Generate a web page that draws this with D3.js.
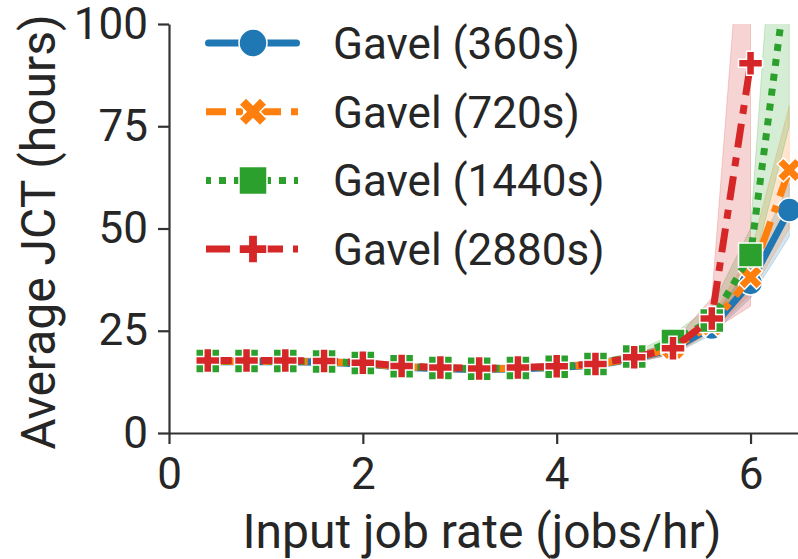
<!DOCTYPE html>
<html>
<head>
<meta charset="utf-8">
<script src="https://cdn.jsdelivr.net/npm/d3@7"></script>
<style>
  html, body { margin: 0; padding: 0; background: #fff; }
  svg { display: block; font-family: Roboto, "DejaVu Sans", sans-serif; }
</style>
</head>
<body>
<svg id="chart" width="798" height="559"></svg>
<script>
// input job rates (jobs/hr)
const rates = [0.4, 0.8, 1.2, 1.6, 2.0, 2.4, 2.8, 3.2, 3.6, 4.0, 4.4, 4.8, 5.2, 5.6, 6.0, 6.4]

// average JCT (hours), mean and confidence band per round length
const jct360 = [17.4, 17.4, 17.4, 17.3, 16.9, 16.1, 15.7, 15.5, 15.7, 16.0, 16.6, 18.2, 20.6, 25.8, 36.7, 54.5]
const lo360 = [16.7, 16.7, 16.7, 16.6, 16.2, 15.4, 15.0, 14.8, 15.0, 15.3, 15.8, 17.2, 19.2, 24.0, 33.0, 48.0]
const hi360 = [18.1, 18.1, 18.1, 18.0, 17.6, 16.8, 16.4, 16.2, 16.4, 16.7, 17.4, 19.2, 22.0, 28.0, 41.0, 61.0]

const jct720 = [17.5, 17.5, 17.5, 17.4, 17.0, 16.2, 15.8, 15.6, 15.8, 16.1, 16.7, 18.3, 20.8, 26.5, 38.1, 64.3]
const lo720 = [16.8, 16.8, 16.8, 16.7, 16.3, 15.5, 15.1, 14.9, 15.1, 15.4, 15.9, 17.3, 19.3, 24.5, 34.0, 50.0]
const hi720 = [18.2, 18.2, 18.2, 18.1, 17.7, 16.9, 16.5, 16.3, 16.5, 16.8, 17.5, 19.3, 22.3, 28.5, 44.0, 80.0]

const jct1440 = [17.6, 17.6, 17.6, 17.5, 17.1, 16.3, 15.9, 15.7, 15.9, 16.2, 16.9, 18.7, 22.5, 27.5, 43.5, 116.0]
const lo1440 = [16.9, 16.9, 16.9, 16.8, 16.4, 15.6, 15.2, 15.0, 15.2, 15.5, 16.1, 17.7, 20.8, 25.0, 38.0, 75.0]
const hi1440 = [18.3, 18.3, 18.3, 18.2, 17.8, 17.0, 16.6, 16.4, 16.6, 16.9, 17.7, 19.7, 24.2, 31.0, 50.0, 183.0]

const jct2880 = [17.7, 17.7, 17.7, 17.6, 17.2, 16.4, 16.0, 15.8, 16.0, 16.3, 16.9, 18.5, 20.7, 28.0, 90.4]
const lo2880 = [17.0, 17.0, 17.0, 16.9, 16.5, 15.7, 15.3, 15.1, 15.3, 15.6, 16.1, 17.5, 19.3, 25.0, 31.0]
const hi2880 = [18.4, 18.4, 18.4, 18.3, 17.9, 17.1, 16.7, 16.5, 16.7, 17.0, 17.7, 19.5, 22.1, 33.0, 155.0]

const seriesNames = ['Gavel (360s)', 'Gavel (720s)', 'Gavel (1440s)', 'Gavel (2880s)']
const xTicks = [0, 2, 4, 6]
const yTicks = [0, 25, 50, 75, 100]

const colors = ['#1f77b4', '#ff7f0e', '#2ca02c', '#d62728']
const dashes = [null, '28,10,7,10', '7,8', '24,10,9,10']
const legendOffsets = [0, 8, 2, 0]
const markers = ['circle', 'x', 'square', 'plus']

const series = [
  { name: seriesNames[0], mean: jct360, lo: lo360, hi: hi360 },
  { name: seriesNames[1], mean: jct720, lo: lo720, hi: hi720 },
  { name: seriesNames[2], mean: jct1440, lo: lo1440, hi: hi1440 },
  { name: seriesNames[3], mean: jct2880, lo: lo2880, hi: hi2880 },
].map((s, i) => ({
  ...s,
  color: colors[i],
  dash: dashes[i],
  marker: markers[i],
  points: s.mean.map((v, j) => ({ x: rates[j], y: v, lo: s.lo[j], hi: s.hi[j] })),
}))

const svg = d3.select('#chart')
const plotLeft = 169
const plotRight = 799
const plotTop = 24
const plotBottom = 433
const lineWidth = 7

const x = d3.scaleLinear().domain([0, 6.5]).range([plotLeft, plotRight])
const y = d3.scaleLinear().domain([0, 100]).range([plotBottom, plotTop])

// marker paths, unit size 1 (matplotlib shapes)
const plusPts = [[-1, -3], [-1, -1], [-3, -1], [-3, 1], [-1, 1], [-1, 3],
  [1, 3], [1, 1], [3, 1], [3, -1], [1, -1], [1, -3]].map(([a, b]) => [a / 6, b / 6])
const xPts = [[-1, -2], [0, -1], [1, -2], [2, -1], [1, 0], [2, 1],
  [1, 2], [0, 1], [-1, 2], [-2, 1], [-1, 0], [-2, -1]].map(([a, b]) => [a / 4, b / 4])

const markerPath = (kind, size) => {
  if (kind === 'circle') {
    const r = size / 2
    return `M${-r},0A${r},${r} 0 1,0 ${r},0A${r},${r} 0 1,0 ${-r},0Z`
  }
  if (kind === 'square') {
    const h = size / 2
    return `M${-h},${-h}H${h}V${h}H${-h}Z`
  }
  const pts = kind === 'plus' ? plusPts : xPts
  return 'M' + pts.map(([a, b]) => `${a * size},${b * size}`).join('L') + 'Z'
}

svg.append('defs')
  .append('clipPath')
  .attr('id', 'plot-clip')
  .append('rect')
  .attr('x', plotLeft)
  .attr('y', plotTop)
  .attr('width', plotRight - plotLeft)
  .attr('height', plotBottom - plotTop)

const plot = svg.append('g').attr('clip-path', 'url(#plot-clip)')

// NOTE: confidence bands first, below all lines
const band = d3.area()
  .x(d => x(d.x))
  .y0(d => y(d.lo))
  .y1(d => y(d.hi))

plot.selectAll('path.band')
  .data(series)
  .join('path')
  .attr('class', 'band')
  .attr('d', d => band(d.points))
  .attr('fill', d => d.color)
  .attr('fill-opacity', 0.2)
  .attr('stroke', d => d.color)
  .attr('stroke-opacity', 0.2)
  .attr('stroke-width', 1)

const line = d3.line()
  .x(d => x(d.x))
  .y(d => y(d.y))

series.forEach(s => {
  const g = plot.append('g').attr('class', 'series')

  g.append('path')
    .attr('d', line(s.points))
    .attr('fill', 'none')
    .attr('stroke', s.color)
    .attr('stroke-width', lineWidth)
    .attr('stroke-linecap', s.dash ? 'butt' : 'round')
    .attr('stroke-linejoin', 'round')
    .attr('stroke-dasharray', s.dash)

  g.selectAll('path.mark')
    .data(s.points)
    .join('path')
    .attr('class', 'mark')
    .attr('transform', d => `translate(${x(d.x)},${y(d.y)})`)
    .attr('d', markerPath(s.marker, 24))
    .attr('fill', s.color)
    .attr('stroke', '#fff')
    .attr('stroke-width', 1.5)
})

// axes
const axisColor = '#333'
const textColor = '#262626'

const xAxis = svg.append('g')
  .attr('transform', `translate(0,${plotBottom})`)
  .call(d3.axisBottom(x).tickValues(xTicks).tickFormat(d3.format('d')).tickSize(11).tickSizeOuter(0).tickPadding(14))

const yAxis = svg.append('g')
  .attr('transform', `translate(${plotLeft},0)`)
  .call(d3.axisLeft(y).tickValues(yTicks).tickFormat(d3.format('d')).tickSize(11).tickSizeOuter(0).tickPadding(10))

;[xAxis, yAxis].forEach(a => {
  a.select('.domain').attr('stroke', axisColor).attr('stroke-width', 2.2)
  a.selectAll('.tick line').attr('stroke', axisColor).attr('stroke-width', 2.2)
  a.selectAll('.tick text')
    .attr('fill', textColor)
    .style('font-family', 'Roboto')
    .style('font-size', '44px')
  a.attr('font-family', null).attr('font-size', null)
})

svg.append('text')
  .attr('x', 482)
  .attr('y', 548)
  .attr('text-anchor', 'middle')
  .attr('fill', textColor)
  .style('font-size', '48px')
  .text('Input job rate (jobs/hr)')

svg.append('text')
  .attr('transform', 'translate(55,232) rotate(-90)')
  .attr('text-anchor', 'middle')
  .attr('fill', textColor)
  .style('font-size', '48px')
  .text('Average JCT (hours)')

// legend
const legend = svg.append('g').attr('class', 'legend')
const legendRow = i => 43 + i * 68.7

series.forEach((s, i) => {
  const row = legend.append('g').attr('transform', `translate(0,${legendRow(i)})`)
  row.append('line')
    .attr('x1', s.dash ? 206 : 208.5)
    .attr('x2', s.dash ? 298 : 296.5)
    .attr('stroke', s.color)
    .attr('stroke-width', lineWidth)
    .attr('stroke-linecap', s.dash ? 'butt' : 'round')
    .attr('stroke-dasharray', s.dash)
    .attr('stroke-dashoffset', legendOffsets[i])
  row.append('path')
    .attr('transform', 'translate(253,0)')
    .attr('d', markerPath(s.marker, 28))
    .attr('fill', s.color)
    .attr('stroke', '#fff')
    .attr('stroke-width', 1.5)
  row.append('text')
    .attr('x', 333)
    .attr('dy', '0.36em')
    .attr('fill', textColor)
    .style('font-size', '44px')
    .text(s.name)
})
</script>
</body>
</html>
